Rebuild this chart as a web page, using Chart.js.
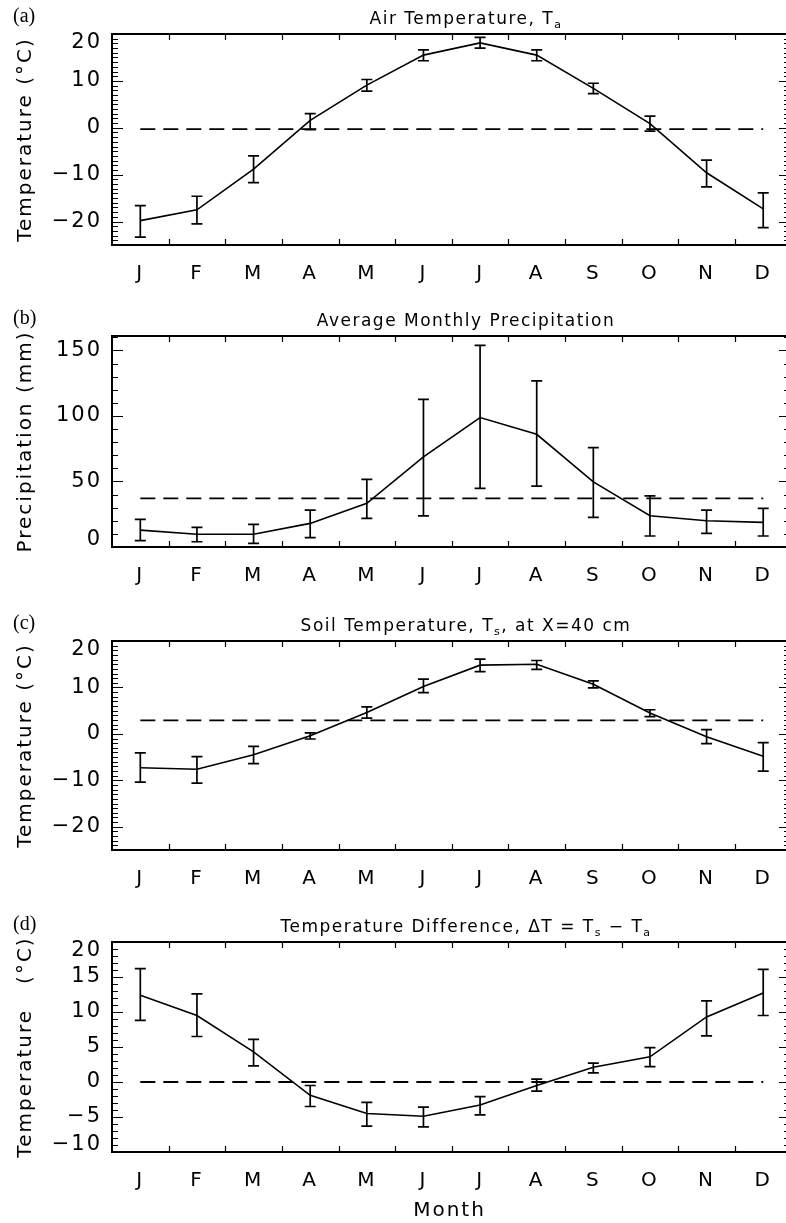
<!DOCTYPE html>
<html>
<head>
<meta charset="utf-8">
<script src="https://cdn.jsdelivr.net/npm/chart.js@4.4.1/dist/chart.umd.min.js"></script>
<style>
  html, body { margin: 0; padding: 0; background: #fff; width: 786px; height: 1223px; overflow: hidden; }
  canvas.panel { position: absolute; left: 0; }
</style>
</head>
<body>
<canvas id="panelA" class="panel" width="788" height="300" style="top:0px"></canvas>
<canvas id="panelB" class="panel" width="788" height="305" style="top:300px"></canvas>
<canvas id="panelC" class="panel" width="788" height="302" style="top:605px"></canvas>
<canvas id="panelD" class="panel" width="788" height="316" style="top:907px"></canvas>
<script>
// ---- data -------------------------------------------------------------
const MONTHS = ['J', 'F', 'M', 'A', 'M', 'J', 'J', 'A', 'S', 'O', 'N', 'D'];

// (a) air temperature, monthly mean and range (°C)
const airTemp     = [-19.8, -17.5, -8.8, 1.6, 9.1, 15.5, 18.1, 15.5, 8.4, 0.9, -9.6, -17.3];
const airTempLow  = [-23.3, -20.5, -11.7, -0.4, 7.8, 14.3, 17.0, 14.3, 7.3, -0.7, -12.6, -21.3];
const airTempHigh = [-16.6, -14.6, -6.0, 3.0, 10.3, 16.6, 19.3, 16.6, 9.5, 2.5, -6.9, -13.9];
const airTempAnnual = -0.3;
const airTicks = [-20, -10, 0, 10, 20];

// (b) monthly precipitation (mm)
const precip     = [12.9, 9.7, 9.7, 18.0, 33.3, 68.8, 98.8, 86.0, 49.7, 23.8, 20.0, 18.8];
const precipLow  = [4.8, 4.0, 2.8, 7.1, 21.9, 23.8, 44.7, 46.5, 22.6, 8.4, 10.4, 8.4];
const precipHigh = [21.1, 15.0, 17.3, 28.2, 51.6, 112.7, 153.8, 126.7, 75.9, 39.0, 28.2, 29.5];
const precipAnnual = 37.1;
const precipTicks = [0, 50, 100, 150];

// (c) soil temperature at 40 cm (°C)
const soilTemp     = [-7.3, -7.6, -4.5, -0.4, 4.6, 10.2, 14.8, 15.0, 10.7, 4.5, -0.6, -4.8];
const soilTempLow  = [-10.4, -10.6, -6.4, -1.1, 3.4, 8.9, 13.4, 13.9, 9.9, 3.7, -2.1, -8.0];
const soilTempHigh = [-4.1, -4.9, -2.7, 0.2, 5.8, 11.8, 16.1, 15.8, 11.4, 5.2, 0.9, -1.9];
const soilTempAnnual = 2.9;
const soilTicks = [-20, -10, 0, 10, 20];

// (d) soil minus air (°C)
const tempDiff     = [12.4, 9.5, 4.3, -1.9, -4.5, -4.9, -3.3, -0.5, 2.1, 3.6, 9.3, 12.7];
const tempDiffLow  = [8.8, 6.5, 2.3, -3.5, -6.3, -6.4, -4.7, -1.3, 1.3, 2.2, 6.6, 9.5];
const tempDiffHigh = [16.2, 12.6, 6.1, -0.5, -2.9, -3.6, -2.1, 0.4, 2.7, 4.9, 11.6, 16.1];
const tempDiffRef = 0;
const diffTicks = [-10, -5, 0, 5, 10, 15, 20];

// ---- drawing ------------------------------------------------------------
Chart.defaults.font.family = '"DejaVu Sans", sans-serif';
Chart.defaults.color = '#000';

const FONT = '"DejaVu Sans", sans-serif';

function fmt(v) {
  return String(v).replace('-', '\u2212');
}

// title with subscripts: parts are [text, isSubscript]
function drawRichText(ctx, parts, cx, y) {
  const big = '17px ' + FONT, small = '11px ' + FONT;
  ctx.letterSpacing = '1.5px';
  let w = 0;
  parts.forEach(([t, sub]) => { ctx.font = sub ? small : big; w += ctx.measureText(t).width; });
  let x = cx - w / 2;
  ctx.textAlign = 'left';
  ctx.textBaseline = 'alphabetic';
  parts.forEach(([t, sub]) => {
    ctx.font = sub ? small : big;
    ctx.fillText(t, x, sub ? y + 4 : y);
    x += ctx.measureText(t).width;
  });
}

const panelFrame = {
  id: 'panelFrame',
  beforeDraw(chart) {
    // wide spacing for the axis titles and month letters
    chart.ctx.letterSpacing = '2px';
  },
  afterDatasetsDraw(chart, args, o) {
    const { ctx } = chart, xs = chart.scales.x, ys = chart.scales.y;
    ctx.save();
    ctx.strokeStyle = '#000';
    ctx.lineWidth = 1.7;
    o.low.forEach((lo, i) => {
      const x = xs.getPixelForValue(i + 0.5);
      const y1 = ys.getPixelForValue(lo), y2 = ys.getPixelForValue(o.high[i]);
      ctx.beginPath();
      ctx.moveTo(x, y1); ctx.lineTo(x, y2);
      ctx.moveTo(x - 5.5, y1); ctx.lineTo(x + 5.5, y1);
      ctx.moveTo(x - 5.5, y2); ctx.lineTo(x + 5.5, y2);
      ctx.stroke();
    });
    ctx.restore();
  },
  afterDraw(chart, args, o) {
    const { ctx, chartArea: a } = chart, xs = chart.scales.x, ys = chart.scales.y;
    ctx.save();
    ctx.strokeStyle = '#000';
    ctx.fillStyle = '#000';

    ctx.lineWidth = 2;
    ctx.strokeRect(a.left, a.top, a.right - a.left, a.bottom - a.top);

    // inward tick marks: month boundaries on top/bottom, values on left/right
    ctx.lineWidth = 1.2;
    ctx.beginPath();
    for (let k = 1; k < MONTHS.length; k++) {
      const x = Math.round(xs.getPixelForValue(k)) + 0.5;
      ctx.moveTo(x, a.bottom); ctx.lineTo(x, a.bottom - 6);
      ctx.moveTo(x, a.top); ctx.lineTo(x, a.top + 6);
    }
    for (let v = Math.ceil(ys.min / o.minor) * o.minor; v <= ys.max; v += o.minor) {
      const y = Math.round(ys.getPixelForValue(v)) + 0.5;
      const major = o.ticks.includes(v);
      ctx.moveTo(a.left, y); ctx.lineTo(a.left + (major ? 11 : 6), y);
      ctx.moveTo(a.right, y); ctx.lineTo(a.right - (major ? 8 : 3), y);
    }
    ctx.stroke();

    // y labels, the end ones nudged inside the frame
    ctx.font = '21px ' + FONT;
    ctx.letterSpacing = '2px';
    ctx.textAlign = 'right';
    ctx.textBaseline = 'middle';
    o.ticks.forEach(v => {
      let y = ys.getPixelForValue(v);
      y = Math.min(Math.max(y, a.top + 9), a.bottom - 7);
      ctx.fillText(fmt(v), a.left - 10, y);
    });

    // panel tag and title
    ctx.font = '20px "Liberation Serif", serif';
    ctx.letterSpacing = '0px';
    ctx.textAlign = 'left';
    ctx.fillText(o.tag, 13, a.top - 17);
    drawRichText(ctx, o.title, 466, a.top - 10);
    ctx.restore();
  }
};

function panelChart(id, p) {
  return new Chart(document.getElementById(id), {
    type: 'line',
    data: {
      datasets: [
        {
          data: p.values.map((v, i) => ({ x: i + 0.5, y: v })),
          borderColor: '#000', borderWidth: 1.6, pointRadius: 0, tension: 0
        },
        {
          data: [{ x: 0.5, y: p.ref }, { x: MONTHS.length - 0.5, y: p.ref }],
          borderColor: '#000', borderWidth: 1.8, borderDash: [15, 8], pointRadius: 0
        }
      ]
    },
    options: {
      responsive: false,
      animation: false,
      devicePixelRatio: 1,
      layout: { autoPadding: false, padding: { top: p.top, left: 0, right: 1, bottom: 0 } },
      plugins: {
        legend: { display: false },
        tooltip: { enabled: false },
        panelFrame: { low: p.low, high: p.high, ticks: p.ticks, minor: p.minor, tag: p.tag, title: p.title }
      },
      scales: {
        x: {
          type: 'linear',
          min: 0,
          max: 11.92,
          grid: { display: false, drawTicks: false },
          border: { display: false },
          afterBuildTicks: s => { s.ticks = MONTHS.map((m, i) => ({ value: i + 0.5 })); },
          afterFit: s => { s.height = p.xHeight; },
          ticks: {
            autoSkip: false, maxRotation: 0, padding: 17,
            font: { size: 20 },
            callback: (v, i) => MONTHS[i]
          },
          title: {
            display: !!p.xTitle, text: p.xTitle || '',
            font: { size: 20 }, padding: { top: 0, bottom: 0 }
          }
        },
        y: {
          min: p.min,
          max: p.max,
          grid: { display: false, drawTicks: false },
          border: { display: false },
          ticks: { display: false },
          afterFit: s => { s.width = 112; },
          title: {
            display: true, text: p.yTitle,
            font: { size: 20 }, padding: { top: 14, bottom: 0 }
          }
        }
      }
    },
    plugins: [panelFrame]
  });
}

panelChart('panelA', {
  values: airTemp, low: airTempLow, high: airTempHigh, ref: airTempAnnual,
  min: -25, max: 20, ticks: airTicks, minor: 1,
  top: 34, xHeight: 55,
  tag: '(a)', title: [['Air Temperature, T', false], ['a', true]],
  yTitle: 'Temperature (\u00B0C)'
});

panelChart('panelB', {
  values: precip, low: precipLow, high: precipHigh, ref: precipAnnual,
  min: 0, max: 161, ticks: precipTicks, minor: 10,
  top: 36, xHeight: 58,
  tag: '(b)', title: [['Average Monthly Precipitation', false]],
  yTitle: 'Precipitation (mm)'
});

panelChart('panelC', {
  values: soilTemp, low: soilTempLow, high: soilTempHigh, ref: soilTempAnnual,
  min: -25, max: 20, ticks: soilTicks, minor: 1,
  top: 36, xHeight: 57,
  tag: '(c)', title: [['Soil Temperature, T', false], ['s', true], [', at X=40 cm', false]],
  yTitle: 'Temperature (\u00B0C)'
});

panelChart('panelD', {
  values: tempDiff, low: tempDiffLow, high: tempDiffHigh, ref: tempDiffRef,
  min: -10, max: 20, ticks: diffTicks, minor: 1,
  top: 35, xHeight: 71,
  tag: '(d)', title: [['Temperature Difference, \u0394T = T', false], ['s', true], [' \u2212 T', false], ['a', true]],
  yTitle: 'Temperature   (\u00B0C)',
  xTitle: 'Month'
});
</script>
</body>
</html>
